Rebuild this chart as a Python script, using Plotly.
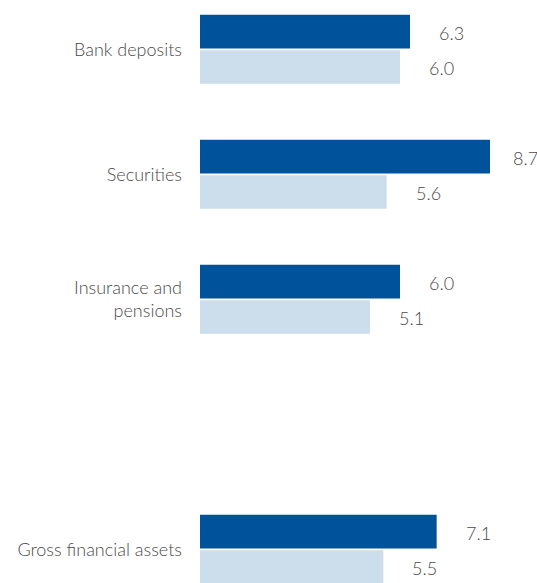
import plotly.graph_objects as go

categories = ["Bank deposits", "Securities", "Insurance and<br>pensions", " ", "Gross financial assets"]
series_names = ["Series A", "Series B"]
dark_values = [6.3, 8.7, 6.0, None, 7.1]
light_values = [6.0, 5.6, 5.1, None, 5.5]

DARK = "#00539b"
LIGHT = "#ccdeeb"
TEXT = "#4a4a4a"
FONT = "Lato"

W, H = 537, 583
LEFT = 200
PX_PER_UNIT = 33.333
PLOT_W = W - LEFT
XMAX = PLOT_W / PX_PER_UNIT

fig = go.Figure()
fig.add_trace(go.Bar(y=categories, x=dark_values, orientation="h", name=series_names[0],
                     marker=dict(color=DARK, line=dict(width=0)), hoverinfo="x+y"))
fig.add_trace(go.Bar(y=categories, x=light_values, orientation="h", name=series_names[1],
                     marker=dict(color=LIGHT, line=dict(width=0)), hoverinfo="x+y"))

annotations = []
LABEL_W = 26
for vals, yshift in ((dark_values, 16), (light_values, -18.5)):
    for cat, v in zip(categories, vals):
        if v is None:
            continue
        room = PLOT_W - v * PX_PER_UNIT - LABEL_W
        xs = min(27, room)
        annotations.append(dict(x=v, y=cat, xref="x", yref="y", text=f"{v:.1f}",
                                showarrow=False, xanchor="left", yanchor="middle",
                                xshift=xs, yshift=yshift,
                                font=dict(family=FONT, size=18, color=TEXT, weight=300)))

fig.update_layout(
    width=W, height=H,
    margin=dict(l=LEFT, r=0, t=0, b=0),
    paper_bgcolor="white", plot_bgcolor="white",
    barmode="group", bargap=0.4344, bargroupgap=0.047,
    showlegend=False,
    annotations=annotations,
    xaxis=dict(range=[0, XMAX], visible=False, fixedrange=True),
    yaxis=dict(type="category", categoryarray=categories, categoryorder="array",
               range=[-0.3944 + H / 125, -0.3944], showgrid=False, zeroline=False, showline=False,
               ticks="", ticklabelstandoff=17, fixedrange=True,
               tickfont=dict(family=FONT, size=18, color=TEXT, weight=300)),
)

fig.write_html("out.html", config={"displayModeBar": False},
               post_script="document.body.style.margin='0';document.body.style.overflow='hidden';")
